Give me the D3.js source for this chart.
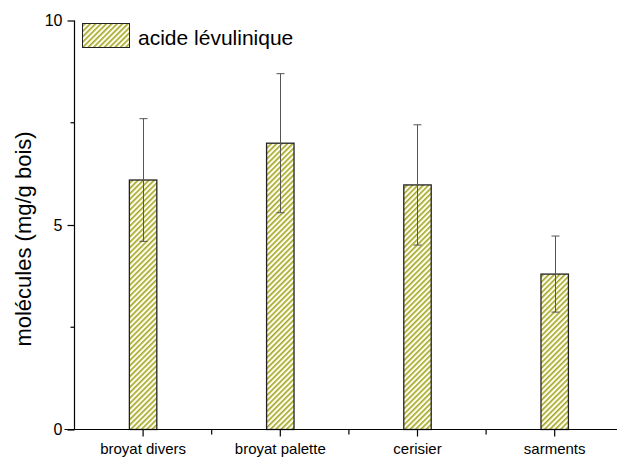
<!DOCTYPE html>
<html><head><meta charset="utf-8">
<script src="https://d3js.org/d3.v7.min.js"></script>
<style>body{margin:0;background:#fff}svg{display:block}text{font-family:"Liberation Sans",Arial,sans-serif}</style>
</head><body>
<script>
const categories = ["broyat divers", "broyat palette", "cerisier", "sarments"];
const values = [6.1, 7.0, 5.98, 3.8];
const errors = [1.5, 1.7, 1.47, 0.93];
const yTicks = [0, 5, 10];
const yMinorTicks = [2.5, 7.5];
const seriesName = "acide lévulinique";
const yLabel = "molécules (mg/g bois)";

const W = 617, H = 457;
const svg = d3.select("body").append("svg").attr("width", W).attr("height", H);

const defs = svg.append("defs");
const pat = defs.append("pattern").attr("id", "hatch").attr("patternUnits", "userSpaceOnUse")
  .attr("width", 3.8).attr("height", 3.8).attr("patternTransform", "rotate(45)");
pat.append("rect").attr("width", 3.8).attr("height", 3.8).attr("fill", "#fdfdf0");
pat.append("line").attr("x1", 0.8).attr("y1", 0).attr("x2", 0.8).attr("y2", 3.8)
  .attr("stroke", "#a0a018").attr("stroke-width", 1.5);

const x0 = 74.5;
const x = d3.scaleBand().domain(categories).range([x0, x0 + 137.2 * 4]).paddingInner(0.8).paddingOuter(0.4);
const y = d3.scaleLinear().domain([0, 10]).range([429.5, 20.5]);

const g = svg.append("g");

// bars
g.selectAll("rect.bar").data(categories).join("rect").attr("class", "bar")
  .attr("x", d => x(d)).attr("width", x.bandwidth())
  .attr("y", (d, i) => y(values[i])).attr("height", (d, i) => y(0) - y(values[i]))
  .attr("fill", "url(#hatch)").attr("stroke", "#222").attr("stroke-width", 1.3);

// error bars
const eb = g.selectAll("g.err").data(categories).join("g").attr("class", "err");
const cx = d => Math.round(x(d) + x.bandwidth() / 2) + 0.5;
eb.append("line").attr("x1", cx).attr("x2", cx)
  .attr("y1", (d, i) => y(values[i] + errors[i])).attr("y2", (d, i) => y(values[i] - errors[i]))
  .attr("stroke", "#555").attr("stroke-width", 1);
[1, -1].forEach(s => {
  eb.append("line").attr("x1", d => cx(d) - 4).attr("x2", d => cx(d) + 4)
    .attr("y1", (d, i) => y(values[i] + s * errors[i])).attr("y2", (d, i) => y(values[i] + s * errors[i]))
    .attr("stroke", "#555").attr("stroke-width", 1);
});

// y axis
const yAxis = g.append("g").attr("transform", `translate(${x0},0)`)
  .call(d3.axisLeft(y).tickValues(yTicks).tickSize(7).tickPadding(5).tickFormat(d3.format("d")));
yAxis.select(".domain").attr("d", `M0,${y(0)}V${y(10)}`).attr("stroke", "#000").attr("stroke-width", 1.2);
yAxis.selectAll("text").attr("font-size", 16).attr("fill", "#000").attr("font-family", '"Liberation Sans",Arial,sans-serif');
yAxis.selectAll("line").attr("stroke-width", 1.2);
yAxis.selectAll("line.minor").data(yMinorTicks).join("line").attr("class", "minor")
  .attr("x1", -4).attr("x2", 0).attr("y1", d => y(d)).attr("y2", d => y(d)).attr("stroke", "#000").attr("stroke-width", 1.2);

// x axis
const xAxis = g.append("g").attr("transform", `translate(0,${y(0)})`)
  .call(d3.axisBottom(x).tickSize(7));
xAxis.select(".domain").attr("d", `M${x0 - 10},0H${W}`).attr("stroke", "#000").attr("stroke-width", 1.2);
xAxis.selectAll("text").attr("font-size", 15).attr("fill", "#000").attr("y", 24.5).attr("dy", null)
  .attr("font-family", '"Liberation Sans",Arial,sans-serif');
xAxis.selectAll("line").attr("stroke-width", 1.2);
xAxis.selectAll("line.minor").data(categories.slice(1)).join("line").attr("class", "minor")
  .attr("x1", d => x(d) + x.bandwidth() / 2 - x.step() / 2).attr("x2", d => x(d) + x.bandwidth() / 2 - x.step() / 2)
  .attr("y1", 0).attr("y2", 5).attr("stroke", "#000").attr("stroke-width", 1.2);

// y label
svg.append("text").attr("transform", `translate(31,239) rotate(-90)`).attr("text-anchor", "middle")
  .attr("font-size", 22).attr("fill", "#000").text(yLabel);

// legend
const lg = svg.append("g");
lg.append("rect").attr("x", 82.5).attr("y", 23.5).attr("width", 47).attr("height", 24)
  .attr("fill", "url(#hatch)").attr("stroke", "#222").attr("stroke-width", 1);
lg.append("text").attr("x", 138).attr("y", 45).attr("font-size", 21).attr("fill", "#000").text(seriesName);
</script>
</body></html>
